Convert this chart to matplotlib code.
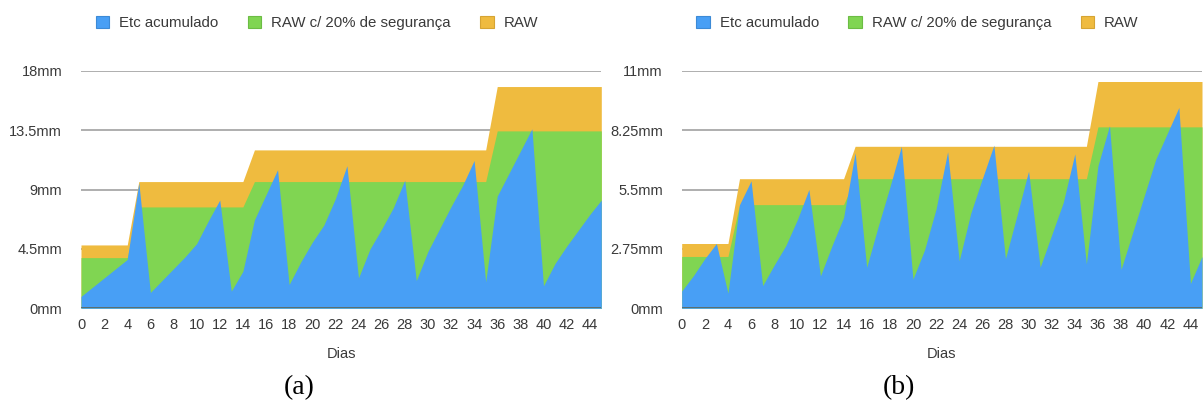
import matplotlib
matplotlib.use("Agg")
import matplotlib.pyplot as plt
from matplotlib.patches import Patch

plt.rcParams['font.family'] = ['Liberation Sans', 'DejaVu Sans']

# Days of the irrigation cycle
dias = list(range(46))

# (a) readings in mm
etc_a = [0.9, 1.6, 2.3, 3.0, 3.7, 9.5, 1.2, 2.1, 3.0, 3.9,
         4.9, 6.6, 8.2, 1.3, 2.8, 6.7, 8.6, 10.5, 1.8, 3.5,
         5.0, 6.3, 8.3, 10.8, 2.3, 4.5, 6.0, 7.6, 9.7, 2.1,
         4.3, 6.0, 7.7, 9.3, 11.2, 2.0, 8.5, 10.2, 11.9, 13.6,
         1.7, 3.4, 4.7, 5.9, 7.1, 8.2]
raw_seg_a = [3.84] * 5 + [7.68] * 10 + [9.6] * 21 + [13.44] * 10
raw_a = [4.8] * 5 + [9.6] * 10 + [12.0] * 21 + [16.8] * 10
yticks_a = [0, 4.5, 9, 13.5, 18]
ylabels_a = ["0mm", "4.5mm", "9mm", "13.5mm", "18mm"]

# (b) readings in mm
etc_b = [0.8, 1.5, 2.3, 3.0, 0.7, 4.8, 5.9, 1.05, 2.0, 2.9,
         4.1, 5.5, 1.5, 2.9, 4.2, 7.2, 1.9, 3.8, 5.6, 7.5,
         1.35, 2.7, 4.6, 7.25, 2.2, 4.4, 6.0, 7.55, 2.3, 4.3,
         6.35, 1.9, 3.4, 4.9, 7.15, 2.05, 6.6, 8.45, 1.8, 3.5,
         5.2, 6.9, 8.1, 9.3, 1.15, 2.4]
raw_seg_b = [2.4] * 5 + [4.8] * 10 + [6.0] * 21 + [8.4] * 10
raw_b = [3.0] * 5 + [6.0] * 10 + [7.5] * 21 + [10.5] * 10
yticks_b = [0, 2.75, 5.5, 8.25, 11]
ylabels_b = ["0mm", "2.75mm", "5.5mm", "8.25mm", "11mm"]

xticks = list(range(0, 45, 2))
nomes = ["Etc acumulado", "RAW c/ 20% de segurança", "RAW"]

azul = '#489ff5'
verde = '#80d552'
laranja = '#efbb3f'
texto = '#3a3a3a'

W, H = 1203, 403
fig = plt.figure(figsize=(W / 100, H / 100), dpi=100)


def painel(x0, etc, raw_seg, raw, yticks, ylabels, letra, xcentro):
    ax = fig.add_axes([x0 / W, (H - 308.3) / H, 520.3 / W, 237.6 / H])
    for y in yticks[1:]:
        ax.axhline(y, color='#a8a8a8', lw=1.3, zorder=0)
    ax.fill_between(dias, 0, raw, color=laranja, lw=0, zorder=1)
    ax.fill_between(dias, 0, raw_seg, color=verde, lw=0, zorder=2)
    ax.fill_between(dias, 0, etc, color=azul, lw=0, zorder=3)
    ax.axhline(0, color='#5c6e6e', lw=1.4, zorder=4)
    ax.set_xlim(0, 45)
    ax.set_ylim(0, yticks[-1])
    ax.set_xticks(xticks)
    ax.set_yticks(yticks)
    ax.set_yticklabels(ylabels)
    ax.tick_params(axis='y', length=0, pad=13.5, labelsize=10.5, labelcolor=texto)
    ax.tick_params(axis='x', length=0, pad=7, labelsize=10.5, labelcolor=texto)
    for s in ax.spines.values():
        s.set_visible(False)
    ax.set_xlabel("Dias", fontsize=10.5, color=texto, labelpad=10.5)

    handles = [Patch(facecolor=c, edgecolor=e, lw=0.8)
               for c, e in [(azul, '#3c8ad6'), (verde, '#6cbc44'), (laranja, '#d6a433')]]
    ax.legend(handles, nomes, loc='center left', ncol=3, frameon=False,
              bbox_to_anchor=((x0 + 14.5) / W, (H - 23) / H), bbox_transform=fig.transFigure,
              fontsize=10.8, labelcolor=texto, borderpad=0, borderaxespad=0,
              handlelength=0.92, handleheight=0.92, handletextpad=0.65, columnspacing=1.95)

    fig.text(xcentro / W, (H - 388) / H, letra, ha='center', va='center',
             fontsize=20, family='Liberation Serif', color='black')


painel(81, etc_a, raw_seg_a, raw_a, yticks_a, ylabels_a, "(a)", 299)
painel(681.7, etc_b, raw_seg_b, raw_b, yticks_b, ylabels_b, "(b)", 899)

fig.savefig("out.png", dpi=100)
